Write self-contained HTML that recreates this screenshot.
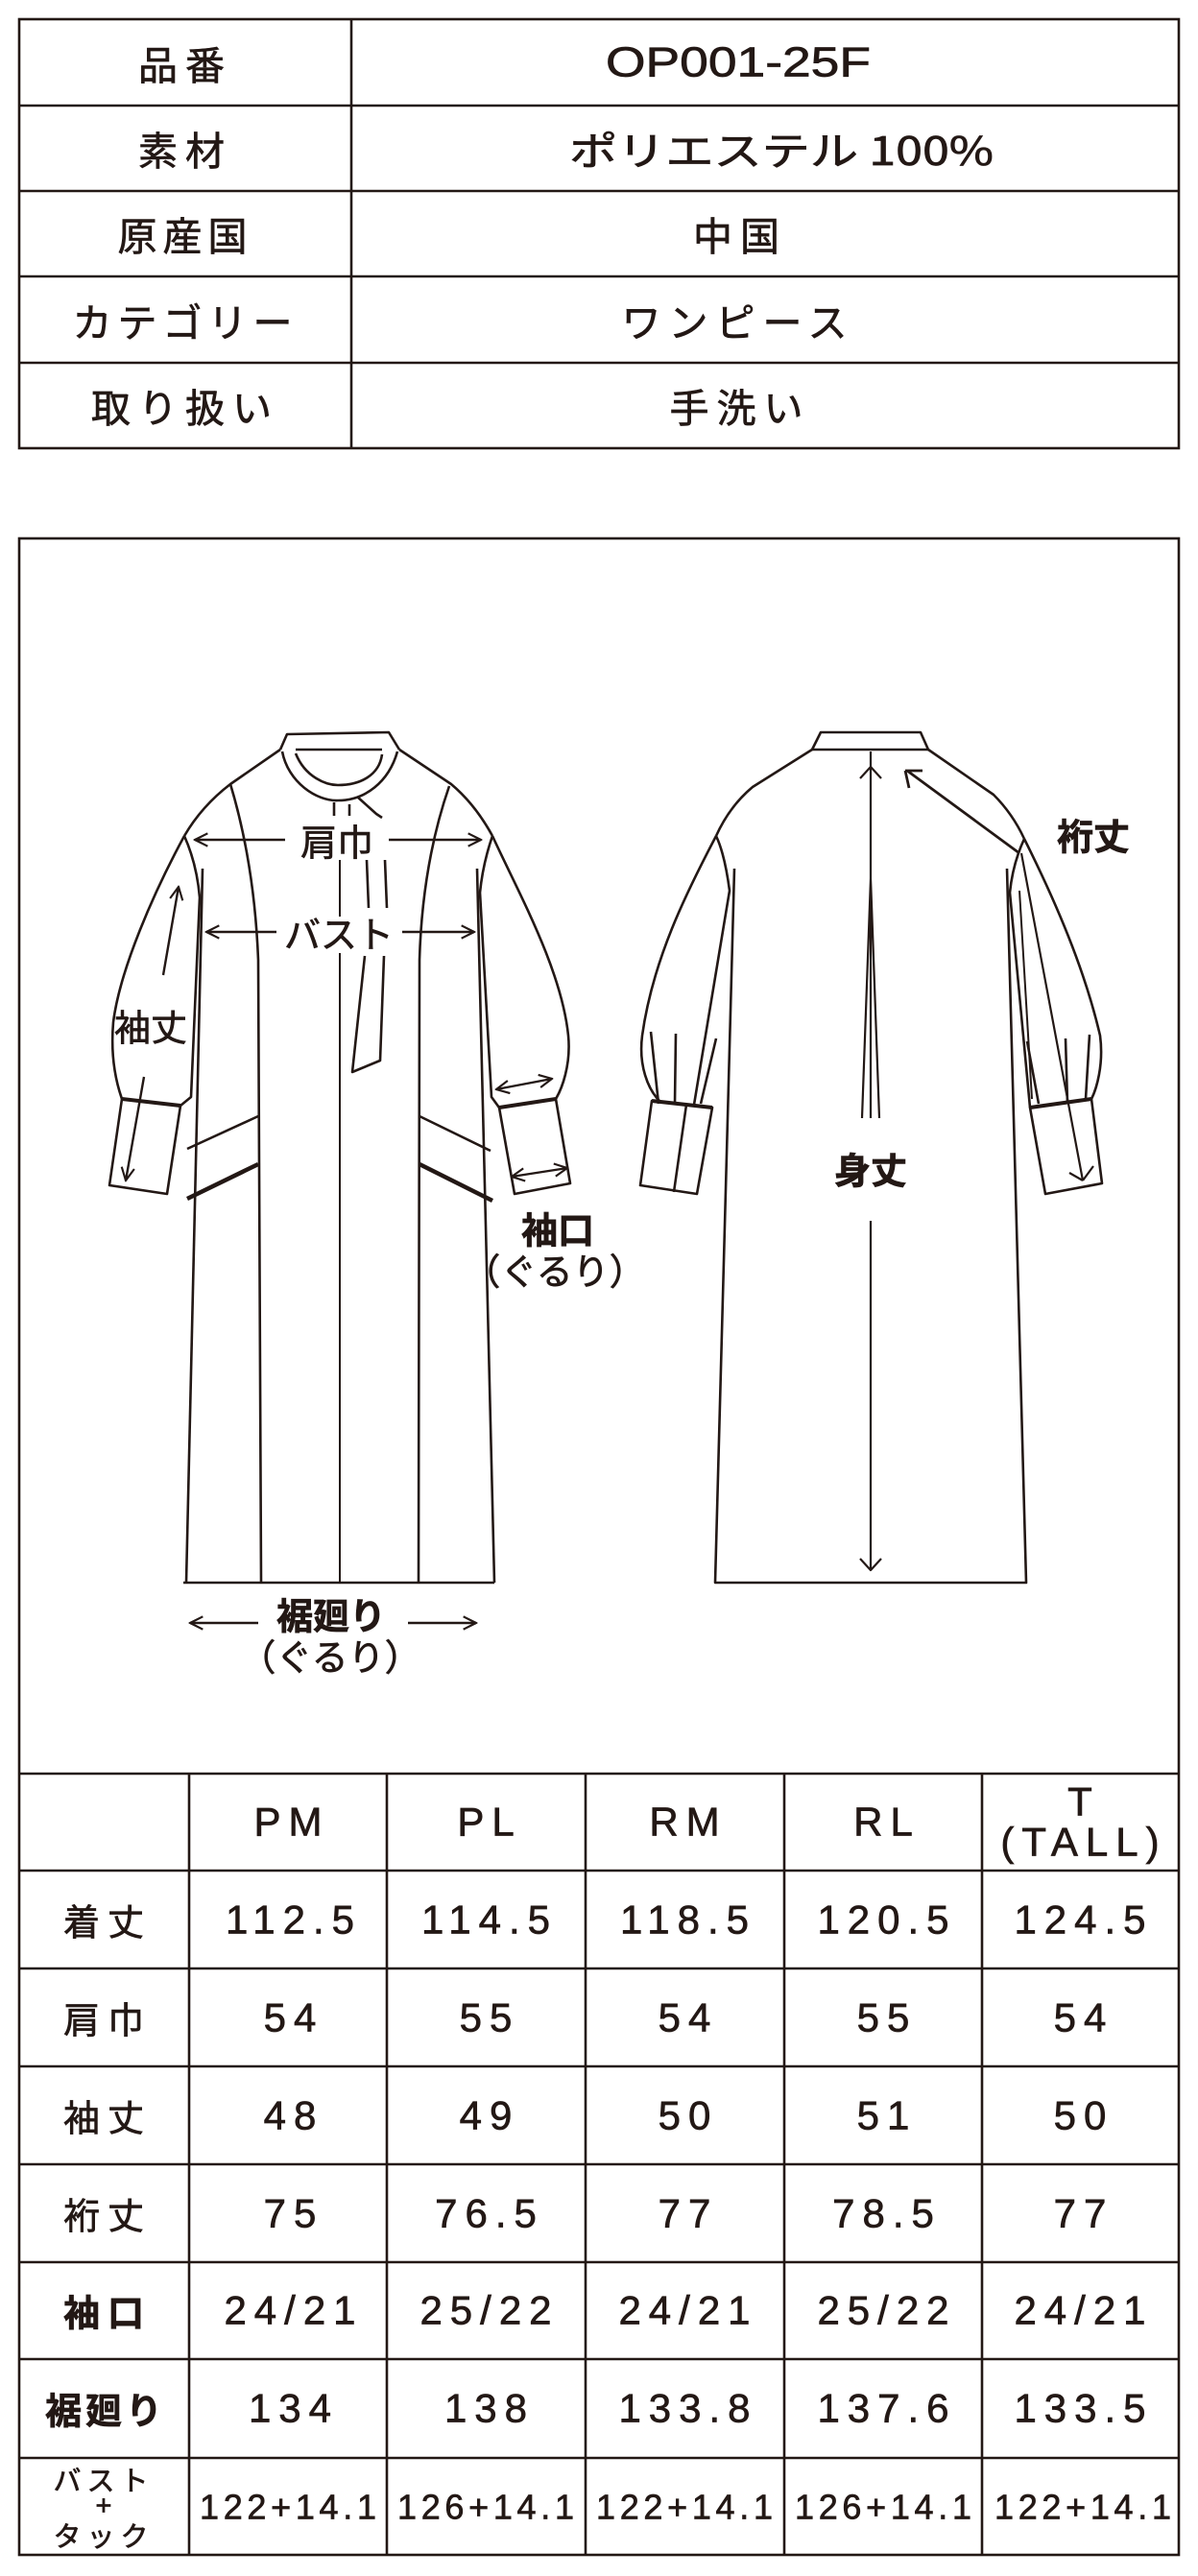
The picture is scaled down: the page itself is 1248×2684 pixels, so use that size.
<!DOCTYPE html>
<html><head><meta charset="utf-8"><style>
html,body{margin:0;padding:0;background:#fff;}
svg{display:block;}
text{font-family:"Liberation Sans","Noto Sans CJK JP",sans-serif;fill:#231815;stroke:#231815;stroke-width:0.7;}
.j{font-family:"Noto Sans CJK JP",sans-serif;}
</style></head><body>
<svg width="1248" height="2684" viewBox="0 0 1248 2684" xmlns="http://www.w3.org/2000/svg">
<defs>
<marker id="a" viewBox="0 0 12 12" refX="11" refY="6" markerWidth="16" markerHeight="16" markerUnits="userSpaceOnUse" orient="auto-start-reverse">
<path d="M1,1 L11,6 L1,11" fill="none" stroke="#231815" stroke-width="1.6"/>
</marker>
</defs>
<g fill="none" stroke="#231815" stroke-width="2.6">
<rect x="20" y="20" width="1208" height="447"/>
<line x1="366" y1="20" x2="366" y2="467"/>
<line x1="20" y1="110" x2="1228" y2="110"/>
<line x1="20" y1="199" x2="1228" y2="199"/>
<line x1="20" y1="288" x2="1228" y2="288"/>
<line x1="20" y1="378" x2="1228" y2="378"/>
<rect x="20" y="561" width="1208" height="2101"/>
<line x1="20" y1="1848" x2="1228" y2="1848"/>
<line x1="20" y1="1949" x2="1228" y2="1949"/>
<line x1="20" y1="2051" x2="1228" y2="2051"/>
<line x1="20" y1="2153" x2="1228" y2="2153"/>
<line x1="20" y1="2255" x2="1228" y2="2255"/>
<line x1="20" y1="2357" x2="1228" y2="2357"/>
<line x1="20" y1="2458" x2="1228" y2="2458"/>
<line x1="20" y1="2561" x2="1228" y2="2561"/>
<line x1="197" y1="1848" x2="197" y2="2662"/>
<line x1="403" y1="1848" x2="403" y2="2662"/>
<line x1="610" y1="1848" x2="610" y2="2662"/>
<line x1="817" y1="1848" x2="817" y2="2662"/>
<line x1="1023" y1="1848" x2="1023" y2="2662"/>
</g>
<!-- top table text -->
<g font-size="41" dominant-baseline="central">
<text class="j" x="193" y="65" text-anchor="middle" letter-spacing="8">品番</text>
<text class="j" x="193" y="154" text-anchor="middle" letter-spacing="8">素材</text>
<text class="j" x="193" y="243" text-anchor="middle" letter-spacing="6">原産国</text>
<text class="j" x="193" y="333" text-anchor="middle" letter-spacing="6">カテゴリー</text>
<text class="j" x="193" y="422" text-anchor="middle" letter-spacing="8">取り扱い</text>
<text x="631" y="65" textLength="276" lengthAdjust="spacingAndGlyphs" font-size="44">OP001-25F</text>
<text class="j" x="593" y="154" textLength="442" lengthAdjust="spacingAndGlyphs">ポリエステル 100%</text>
<text class="j" x="771" y="243" text-anchor="middle" letter-spacing="8">中国</text>
<text class="j" x="769" y="333" text-anchor="middle" letter-spacing="8">ワンピース</text>
<text class="j" x="771" y="422" text-anchor="middle" letter-spacing="8">手洗い</text>
</g>
<!-- front garment -->
<g fill="none" stroke="#231815" stroke-width="2.6" stroke-linejoin="round">
<path d="M292,781 L299,765 L405,763 L416,781"/>
<path d="M308,781 L398,781"/>
<path d="M294,783 C300,815 330,835 352,834 C380,834 405,815 414,783"/>
<path d="M308,785 C318,810 340,818 352,818 C375,818 395,808 398,786"/>
<path d="M372,830 L392,848 L398,852"/>
<path d="M348,836 L348,850 M364,838 L364,850"/>
<path d="M382,896 L384,946 M401,896 L403,946"/>
<path d="M380,996 L367,1117 L396,1105 L400,996"/>
<path d="M354,896 L354,955 M354,993 L354,1649" stroke-width="2"/>
<path d="M292,781 L240,817 Q210,840 192,871"/>
<path d="M192,871 C160,930 125,1010 118,1065 C115,1100 120,1125 127,1145"/>
<path d="M127,1145 L188,1152 L174,1244 L114,1235 Z"/>
<path d="M127,1145 L188,1152" stroke-width="4"/>
<path d="M192,871 Q205,900 208,935 L199,1143 L188,1152"/>
<path d="M211,905 L194,1649"/>
<path d="M416,781 L470,817 Q495,838 513,871"/>
<path d="M513,871 C540,930 585,1010 592,1079 C595,1110 585,1135 579,1145"/>
<path d="M520,1154 L579,1145 L594,1233 L536,1244 Z"/>
<path d="M520,1154 L579,1145" stroke-width="4"/>
<path d="M513,871 Q503,900 500,930 L512,1143 L520,1154"/>
<path d="M497,905 L515,1649"/>
<path d="M240,817 Q265,900 269,1000 L272,1649"/>
<path d="M468,819 Q440,900 437,1000 L436,1649"/>
<path d="M191,1649 L515,1649"/>
<path d="M195,1197 L269,1163 M437,1163 L511,1199"/>
<path d="M195,1249 L269,1213 M437,1213 L513,1251" stroke-width="4.5"/>
</g>
<!-- back garment -->
<g fill="none" stroke="#231815" stroke-width="2.6" stroke-linejoin="round">
<path d="M846,781 L855,763 L959,763 L967,781 Z"/>
<path d="M846,781 L784,820 Q760,840 746,871"/>
<path d="M967,781 L1035,828 Q1055,848 1067,874"/>
<path d="M746,871 C715,930 680,1000 669,1079 C665,1110 675,1135 687,1147"/>
<path d="M679,1147 L742,1154 L726,1244 L667,1235 Z"/>
<path d="M679,1147 L742,1154" stroke-width="4"/>
<path d="M715,1151 L702,1242"/>
<path d="M746,871 Q755,890 760,928 L723,1151"/>
<path d="M765,905 L745,1649 L1069,1649 L1049,905"/>
<path d="M1067,874 C1100,940 1130,1010 1146,1079 C1150,1110 1142,1135 1137,1145"/>
<path d="M1073,1154 L1137,1145 L1148,1233 L1089,1244 Z"/>
<path d="M1073,1154 L1137,1145" stroke-width="4"/>
<path d="M1067,874 Q1055,900 1052,930 L1073,1154"/>
<path d="M1062,928 L1075,1145" stroke-width="2"/>
<path d="M678,1075 L686,1150 M704,1077 L703,1150 M746,1082 L730,1150"/>
<path d="M1070,1085 L1082,1150 M1110,1082 L1112,1150 M1135,1078 L1131,1145"/>
<path d="M907,783 L907,915 M907,915 L898,1165 M907,915 L907,1165 M907,915 L916,1165" stroke-width="2.2"/>
<path d="M896,811 L907,799 L918,811" stroke-width="2.2"/>
<path d="M907,1272 L907,1636" stroke-width="2.2"/>
<path d="M896,1624 L907,1636 L918,1624" stroke-width="2.2"/>
<path d="M1062,889 L945,803 M943,803 L961,803 M943,803 L947,821" stroke-width="2.8"/>
<path d="M1064,889 L1128,1230 M1128,1230 L1114,1222 M1128,1230 L1139,1215" stroke-width="2.2"/>
</g>
<!-- front arrows -->
<g fill="none" stroke="#231815" stroke-width="2.4">
<line x1="297" y1="875" x2="203" y2="875" marker-end="url(#a)"/>
<line x1="405" y1="875" x2="501" y2="875" marker-end="url(#a)"/>
<line x1="288" y1="971" x2="215" y2="971" marker-end="url(#a)"/>
<line x1="419" y1="971" x2="494" y2="971" marker-end="url(#a)"/>
<line x1="170" y1="1016" x2="186" y2="924" marker-end="url(#a)"/>
<line x1="150" y1="1122" x2="131" y2="1230" marker-end="url(#a)"/>
<line x1="517" y1="1135" x2="575" y2="1124" marker-start="url(#a)" marker-end="url(#a)"/>
<line x1="533" y1="1226" x2="591" y2="1217" marker-start="url(#a)" marker-end="url(#a)"/>
<line x1="269" y1="1691" x2="198" y2="1691" marker-end="url(#a)"/>
<line x1="425" y1="1691" x2="496" y2="1691" marker-end="url(#a)"/>
</g>
<g class="j" font-size="38" dominant-baseline="central" text-anchor="middle">
<text class="j" x="351" y="875">肩巾</text>
<text class="j" x="353" y="971">バスト</text>
<text class="j" x="157" y="1068">袖丈</text>
<text class="j" x="581" y="1279" font-weight="bold">袖口</text>
<text class="j" x="578" y="1322">（ぐるり）</text>
<text class="j" x="345" y="1681" font-weight="bold">裾廻り</text>
<text class="j" x="344" y="1724">（ぐるり）</text>
<text class="j" x="1139" y="869" font-weight="bold">裄丈</text>
<text class="j" x="907" y="1217" font-weight="bold">身丈</text>
</g>
<!-- size table -->
<g font-size="42" dominant-baseline="central" text-anchor="middle" letter-spacing="8">
<text x="304" y="1898">PM</text>
<text x="510" y="1898">PL</text>
<text x="717" y="1898">RM</text>
<text x="924" y="1898">RL</text>
<text x="1129" y="1877">T</text>
<text x="1129" y="1919">(TALL)</text>
<text class="j" x="112" y="2000" font-size="38">着丈</text>
<text class="j" x="112" y="2102" font-size="38">肩巾</text>
<text class="j" x="112" y="2204" font-size="38">袖丈</text>
<text class="j" x="112" y="2306" font-size="38">裄丈</text>
<text class="j" x="112" y="2407" font-size="38" font-weight="bold">袖口</text>
<text class="j" x="110" y="2509" font-size="38" font-weight="bold" letter-spacing="4">裾廻り</text>
<text x="306" y="2000">112.5</text><text x="510" y="2000">114.5</text><text x="717" y="2000">118.5</text><text x="924" y="2000">120.5</text><text x="1129" y="2000">124.5</text>
<text x="306" y="2102">54</text><text x="510" y="2102">55</text><text x="717" y="2102">54</text><text x="924" y="2102">55</text><text x="1129" y="2102">54</text>
<text x="306" y="2204">48</text><text x="510" y="2204">49</text><text x="717" y="2204">50</text><text x="924" y="2204">51</text><text x="1129" y="2204">50</text>
<text x="306" y="2306">75</text><text x="510" y="2306">76.5</text><text x="717" y="2306">77</text><text x="924" y="2306">78.5</text><text x="1129" y="2306">77</text>
<text x="306" y="2407">24/21</text><text x="510" y="2407">25/22</text><text x="717" y="2407">24/21</text><text x="924" y="2407">25/22</text><text x="1129" y="2407">24/21</text>
<text x="306" y="2509">134</text><text x="510" y="2509">138</text><text x="717" y="2509">133.8</text><text x="924" y="2509">137.6</text><text x="1129" y="2509">133.5</text>
</g>
<g font-size="29" dominant-baseline="central" text-anchor="middle">
<text class="j" x="108" y="2583" letter-spacing="6">バスト</text>
<text x="108" y="2611">+</text>
<text class="j" x="108" y="2641" letter-spacing="6">タック</text>
</g>
<g font-size="36" dominant-baseline="central">
<text x="208" y="2612" textLength="184" lengthAdjust="spacing">122+14.1</text>
<text x="414" y="2612" textLength="184" lengthAdjust="spacing">126+14.1</text>
<text x="621" y="2612" textLength="184" lengthAdjust="spacing">122+14.1</text>
<text x="828" y="2612" textLength="184" lengthAdjust="spacing">126+14.1</text>
<text x="1036" y="2612" textLength="184" lengthAdjust="spacing">122+14.1</text>
</g>
</svg>
</body></html>
